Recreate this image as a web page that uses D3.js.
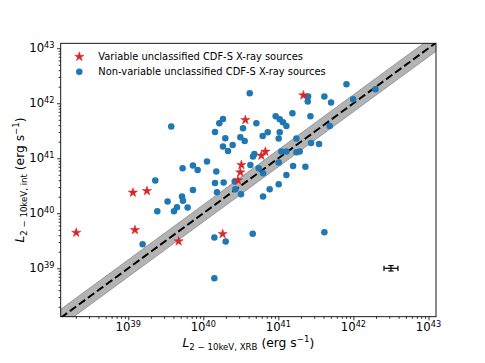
<!DOCTYPE html>
<html>
<head>
<meta charset="utf-8">
<script src="https://cdn.jsdelivr.net/npm/d3@7"></script>
<style>
  html, body { margin: 0; padding: 0; background: #fff; }
  svg { display: block; font-family: "DejaVu Sans", sans-serif; }
</style>
</head>
<body>
<svg id="chart" width="485" height="363"></svg>
<script>
// ---- Data (log10 of luminosities, erg s^-1) ----
const variableLogX = [38.307, 39.062, 39.249, 39.089, 39.671, 40.258, 40.462, 40.493, 40.507, 40.560, 40.773, 40.827, 41.333];
const variableLogY = [39.648, 40.376, 40.406, 39.697, 39.491, 39.624, 40.600, 40.745, 40.879, 41.697, 41.048, 41.121, 42.145];

const nonVarLogX = [41.907, 40.618, 41.396, 41.613, 41.391, 41.702, 41.996, 42.293, 41.187, 41.427,
  40.964, 41.018, 41.062, 41.107, 40.707, 40.262, 40.213, 39.573, 40.529, 40.156,
  40.858, 41.018, 40.791, 40.293, 40.493, 40.551, 41.004, 41.240, 41.684, 41.436,
  41.542, 40.391, 40.262, 40.329, 41.040, 41.107, 41.240, 41.284, 40.680, 40.662,
  40.049, 39.862, 40.627, 41.004, 41.196, 41.360, 39.724, 39.924, 40.173, 40.738,
  40.796, 41.107, 40.418, 40.156, 40.271, 39.360, 41.004, 40.427, 39.862, 40.884,
  40.182, 40.502, 40.796, 39.716, 39.729, 39.524, 39.791, 39.649, 39.609, 39.387,
  39.191, 40.147, 40.298, 40.658, 41.613, 40.147];
const nonVarLogY = [42.345, 42.182, 42.121, 42.121, 42.030, 42.012, 42.073, 42.255, 41.818, 41.764,
  41.764, 41.709, 41.655, 41.588, 41.636, 41.715, 41.636, 41.576, 41.545, 41.479,
  41.473, 41.473, 41.406, 41.364, 41.382, 41.315, 41.358, 41.358, 41.588, 41.279,
  41.261, 41.242, 41.212, 41.133, 41.121, 41.121, 41.109, 41.121, 41.079, 41.030,
  40.940, 40.867, 40.879, 40.921, 40.861, 40.848, 40.818, 40.788, 40.758, 40.818,
  40.727, 40.697, 40.576, 40.552, 40.558, 40.594, 40.527, 40.436, 40.424, 40.436,
  40.382, 40.345, 40.303, 40.303, 40.230, 40.212, 40.103, 40.109, 40.036, 40.036,
  39.436, 39.558, 39.485, 39.630, 39.655, 38.818];

// one-to-one relation and its scatter band (dex)
const bandHalfWidthDex = 0.155;
// representative error bar (log centre, half-widths in dex)
const errCentreLog = [42.5, 39.0];
const errHalfDex = [0.093, 0.049];

const majorExponents = [39, 40, 41, 42, 43];
const xLogDomain = [38.1, 43.1];
const yLogDomain = [38.12, 43.09];

const legendLabels = ["Variable unclassified CDF-S X-ray sources", "Non-variable unclassified CDF-S X-ray sources"];

// ---- Layout ----
const L = 60.7, R = 436, T = 43.3, B = 316.7;
const red = "#d62728", blue = "#1f77b4";

const svg = d3.select("#chart");
const x = d3.scaleLog().domain(xLogDomain.map(v => Math.pow(10, v))).range([L, R]);
const y = d3.scaleLog().domain(yLogDomain.map(v => Math.pow(10, v))).range([B, T]);

svg.append("defs").append("clipPath").attr("id", "clip")
  .append("rect").attr("x", L).attr("y", T).attr("width", R - L).attr("height", B - T);

const plot = svg.append("g").attr("clip-path", "url(#clip)");

// band
const lineDomain = d3.range(37.5, 44.01, 0.5).map(v => Math.pow(10, v));
const area = d3.area()
  .x(d => x(d))
  .y0(d => y(d * Math.pow(10, -bandHalfWidthDex)))
  .y1(d => y(d * Math.pow(10, bandHalfWidthDex)));
plot.append("path").datum(lineDomain).attr("d", area)
  .attr("fill", "#b3b3b3").attr("stroke", "#8a8a8a").attr("stroke-width", 0.8);
plot.append("path").datum(lineDomain)
  .attr("d", d3.line().x(d => x(d)).y(d => y(d)))
  .attr("fill", "none").attr("stroke", "#000").attr("stroke-width", 2)
  .attr("stroke-dasharray", "7.8,3.4");

// points
const nonVar = nonVarLogX.map((lx, i) => [Math.pow(10, lx), Math.pow(10, nonVarLogY[i])]);
const vari = variableLogX.map((lx, i) => [Math.pow(10, lx), Math.pow(10, variableLogY[i])]);

plot.selectAll("circle.nv").data(nonVar).enter().append("circle")
  .attr("class", "nv").attr("cx", d => x(d[0])).attr("cy", d => y(d[1])).attr("r", 3.25)
  .attr("fill", blue);

const starR = 4.9;
const starPath = d3.symbol(d3.symbolStar, starR * starR / 0.8908130915292852)();
plot.selectAll("path.var").data(vari).enter().append("path")
  .attr("class", "var").attr("d", starPath)
  .attr("transform", d => `translate(${x(d[0])},${y(d[1])})`)
  .attr("fill", red).attr("stroke", red).attr("stroke-width", 0.5);

// error bar
const ex = Math.pow(10, errCentreLog[0]), ey = Math.pow(10, errCentreLog[1]);
const eb = svg.append("g").attr("stroke", "#000").attr("stroke-width", 1.2);
const ex0 = x(ex * Math.pow(10, -errHalfDex[0])), ex1 = x(ex * Math.pow(10, errHalfDex[0]));
const ey0 = y(ey * Math.pow(10, -errHalfDex[1])), ey1 = y(ey * Math.pow(10, errHalfDex[1]));
const cx = x(ex), cy = y(ey), cap = 2.6;
eb.append("line").attr("x1", ex0).attr("x2", ex1).attr("y1", cy).attr("y2", cy);
eb.append("line").attr("x1", cx).attr("x2", cx).attr("y1", ey0).attr("y2", ey1);
eb.append("line").attr("x1", ex0).attr("x2", ex0).attr("y1", cy - cap).attr("y2", cy + cap);
eb.append("line").attr("x1", ex1).attr("x2", ex1).attr("y1", cy - cap).attr("y2", cy + cap);
eb.append("line").attr("x1", cx - cap).attr("x2", cx + cap).attr("y1", ey0).attr("y2", ey0);
eb.append("line").attr("x1", cx - cap).attr("x2", cx + cap).attr("y1", ey1).attr("y2", ey1);

// axes ticks
function minorVals(dom) {
  const out = [];
  for (let k = 37; k <= 43; k++) for (let m = 2; m <= 9; m++) {
    const v = m * Math.pow(10, k);
    if (v >= dom[0] && v <= dom[1]) out.push(v);
  }
  return out;
}
const majorVals = majorExponents.map(e => Math.pow(10, e));

function styleAxis(g) {
  g.select(".domain").remove();
  g.selectAll("line").attr("stroke", "#000").attr("stroke-width", 0.8);
}
svg.append("g").attr("transform", `translate(0,${B})`)
  .call(d3.axisBottom(x).tickValues(majorVals).tickSize(3.7).tickFormat(() => ""))
  .call(styleAxis);
svg.append("g").attr("transform", `translate(0,${B})`)
  .call(d3.axisBottom(x).tickValues(minorVals(x.domain())).tickSize(2.1).tickFormat(() => ""))
  .call(styleAxis);
svg.append("g").attr("transform", `translate(${L},0)`)
  .call(d3.axisLeft(y).tickValues(majorVals).tickSize(3.7).tickFormat(() => ""))
  .call(styleAxis);
svg.append("g").attr("transform", `translate(${L},0)`)
  .call(d3.axisLeft(y).tickValues(minorVals(y.domain())).tickSize(2.1).tickFormat(() => ""))
  .call(styleAxis);

// frame
svg.append("rect").attr("x", L).attr("y", T).attr("width", R - L).attr("height", B - T)
  .attr("fill", "none").attr("stroke", "#000").attr("stroke-width", 0.9);

// tick labels
const tickFont = 11.7;
majorExponents.forEach(e => {
  const t = svg.append("text").attr("x", x(Math.pow(10, e))).attr("y", B + 14.2)
    .attr("text-anchor", "middle").attr("font-size", tickFont).attr("fill", "#000");
  t.append("tspan").text("10");
  t.append("tspan").attr("dy", -4.4).attr("font-size", tickFont * 0.7).text(e);
  const ty = svg.append("text").attr("x", L - 6.2).attr("y", y(Math.pow(10, e)) + 4)
    .attr("text-anchor", "end").attr("font-size", tickFont).attr("fill", "#000");
  ty.append("tspan").text("10");
  ty.append("tspan").attr("dy", -4.4).attr("font-size", tickFont * 0.7).text(e);
});

// axis labels
function axisLabel(sel, sub) {
  const fs = 12.3;
  sel.attr("font-size", fs).attr("fill", "#000").attr("text-anchor", "middle");
  sel.append("tspan").attr("font-style", "italic").text("L");
  sel.append("tspan").attr("dy", 3.3).attr("font-size", fs * 0.7).text(sub);
  sel.append("tspan").attr("dy", -3.3).text(" (erg s");
  sel.append("tspan").attr("dy", -5).attr("font-size", fs * 0.7).text("\u22121");
  sel.append("tspan").attr("dy", 5).text(")");
}
axisLabel(svg.append("text").attr("x", (L + R) / 2).attr("y", 346.5), "2 \u2212 10keV, XRB");
axisLabel(svg.append("text").attr("transform", `translate(24,${(T + B) / 2}) rotate(-90)`), "2 \u2212 10keV, int");

// legend
const leg = svg.append("g");
leg.append("path").attr("d", starPath).attr("transform", "translate(79.3,56.7)")
  .attr("fill", red).attr("stroke", red).attr("stroke-width", 0.5);
leg.append("circle").attr("cx", 79.3).attr("cy", 71.7).attr("r", 3.25).attr("fill", blue);
legendLabels.forEach((lab, i) => {
  leg.append("text").attr("x", 98.3).attr("y", 60.2 + i * 15).attr("font-size", 9.9)
    .attr("fill", "#000").text(lab);
});
</script>
</body>
</html>
